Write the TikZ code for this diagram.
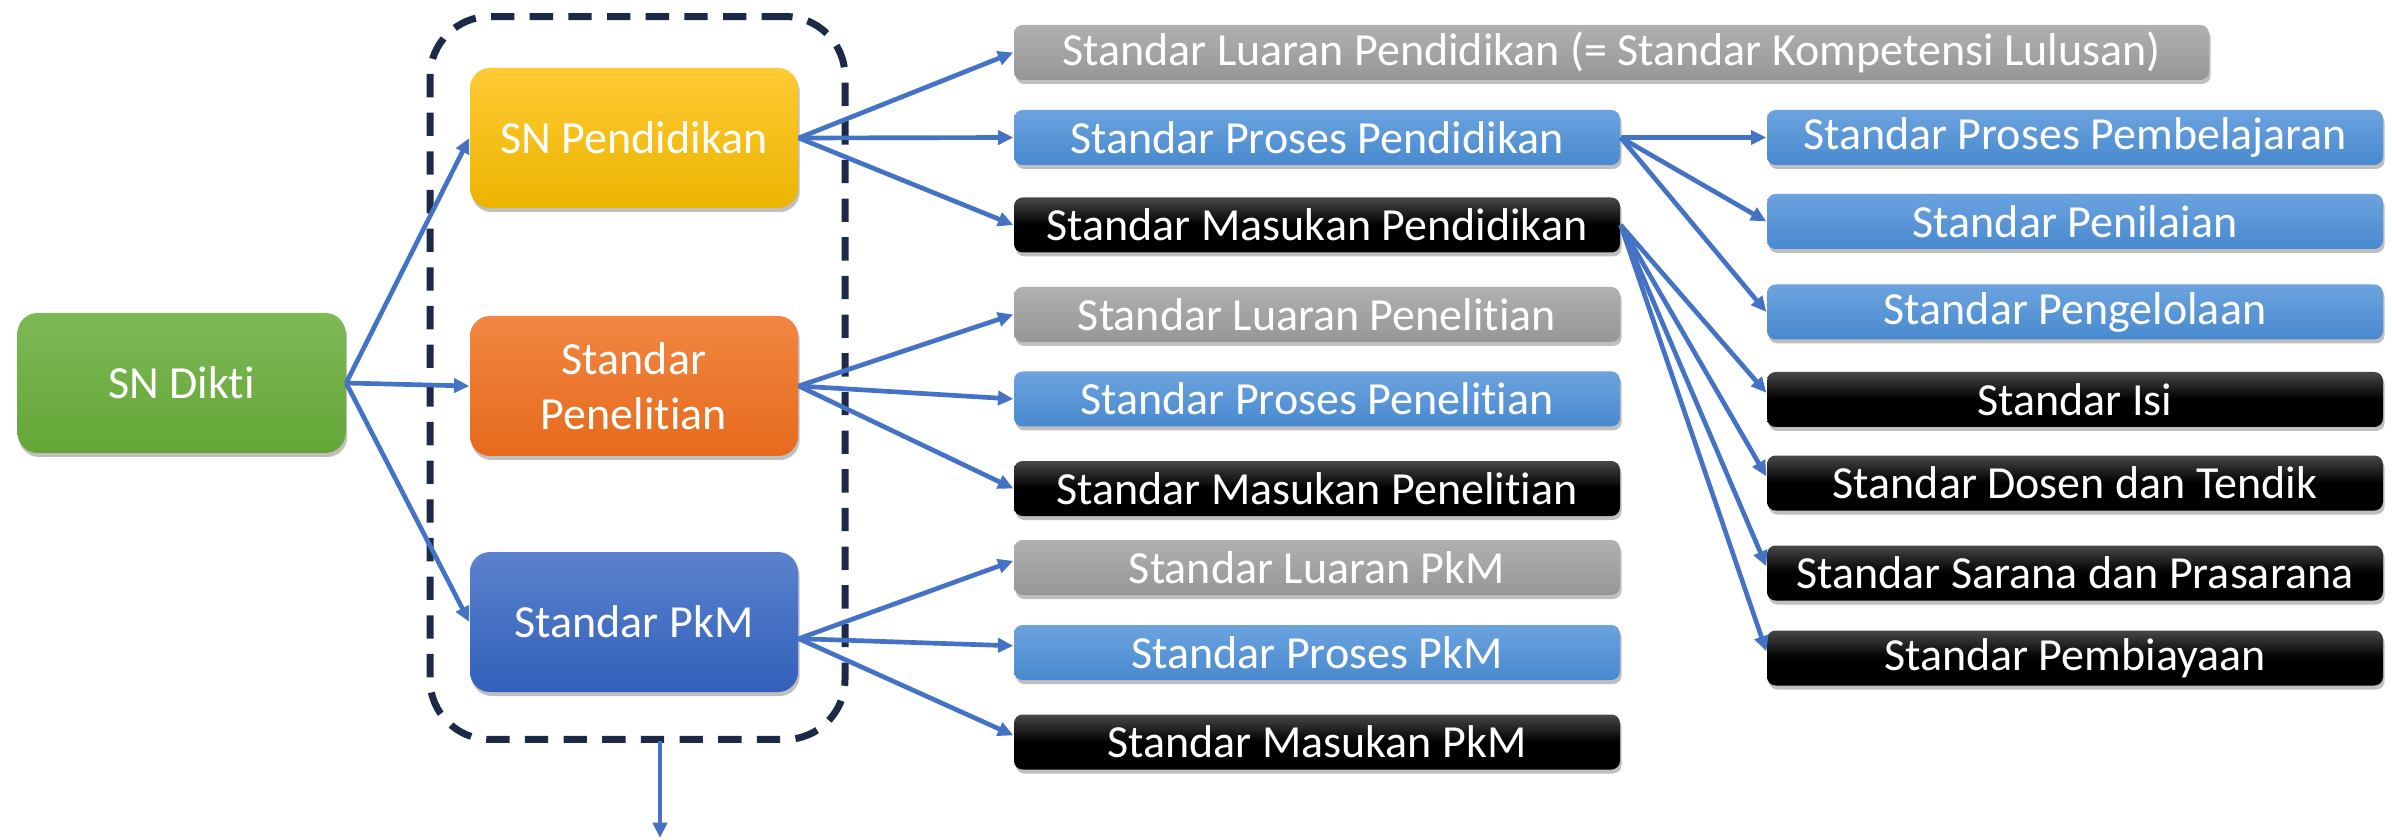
\documentclass[tikz,border=0pt]{standalone}
\usepackage{fontspec}
\setmainfont{Carlito}[Ligatures={NoCommon}]
\usetikzlibrary{arrows.meta,shadows}
\definecolor{arrowblue}{RGB}{68,114,196}
\definecolor{navyline}{RGB}{28,42,72}
\definecolor{grtop}{RGB}{126,185,86}
\definecolor{grbot}{RGB}{100,166,54}
\definecolor{yetop}{RGB}{255,202,52}
\definecolor{yebot}{RGB}{236,180,0}
\definecolor{ortop}{RGB}{241,134,66}
\definecolor{orbot}{RGB}{230,106,28}
\definecolor{dbtop}{RGB}{90,130,205}
\definecolor{dbbot}{RGB}{50,95,186}
\definecolor{lbtop}{RGB}{108,163,222}
\definecolor{lbbot}{RGB}{72,137,207}
\definecolor{gytop}{RGB}{176,176,176}
\definecolor{gybot}{RGB}{150,150,150}
\begin{document}
\begin{tikzpicture}[x=0.3pt,y=-0.3pt,
  base/.style={text=white, font=\fontsize{13.8}{16.5}\selectfont, align=center, inner sep=0pt,
    drop shadow={shadow xshift=0.5pt, shadow yshift=-1.2pt, opacity=0.25, fill=black}},
  bigbox/.style={base, rounded corners=6pt, minimum width=98.4pt, minimum height=42pt},
  midbox/.style={base, rounded corners=2.6pt, minimum width=181.8pt, minimum height=16.5pt},
  rightbox/.style={base, rounded corners=2.6pt, minimum width=184.8pt, minimum height=16.5pt},
  greenfill/.style={top color=grtop, bottom color=grbot},
  yellowfill/.style={top color=yetop, bottom color=yebot},
  orangefill/.style={top color=ortop, bottom color=orbot},
  darkbluefill/.style={top color=dbtop, bottom color=dbbot},
  lightfill/.style={top color=lbtop, bottom color=lbbot},
  grayfill/.style={top color=gytop, bottom color=gybot},
  blackfill/.style={top color=black!72, bottom color=black, middle color=black},
  arr/.style={draw=arrowblue, line width=1.4pt, -{Triangle[length=4.6pt,width=4.2pt]}},
  groupbox/.style={draw=navyline, line width=2.1pt, dash pattern=on 7pt off 4.6pt,
    rounded corners=18pt, minimum width=124.5pt, minimum height=216.9pt, inner sep=0pt}
]
\useasboundingbox (0,0) rectangle (2392,840);

\node[groupbox] (grp) at (637.5,378) {};

\node[bigbox, greenfill] (dikti) at (181.5,383) {SN Dikti};
\node[bigbox, yellowfill] (pend) at (634,138) {SN Pendidikan};
\node[bigbox, orangefill] (pen) at (634,386) {Standar\\Penelitian};
\node[bigbox, darkbluefill] (pkm) at (634,622) {Standar PkM};

\node[midbox, grayfill, minimum width=358.5pt] (lpend) at (1611.5,52.5) {Standar Luaran Pendidikan (= Standar Kompetensi Lulusan)};
\node[midbox, lightfill] (ppend) at (1317,137.5) {Standar Proses Pendidikan};
\node[midbox, blackfill] (mpend) at (1317,225) {Standar Masukan Pendidikan};
\node[midbox, grayfill] (lpen) at (1317,314.5) {Standar Luaran Penelitian};
\node[midbox, lightfill] (ppen) at (1317,399) {Standar Proses Penelitian};
\node[midbox, blackfill] (mpen) at (1317,488.5) {Standar Masukan Penelitian};
\node[midbox, grayfill] (lpkm) at (1317,567.5) {Standar Luaran PkM};
\node[midbox, lightfill] (ppkm) at (1317,652.5) {Standar Proses PkM};
\node[midbox, blackfill] (mpkm) at (1317,742) {Standar Masukan PkM};

\node[rightbox, lightfill] (pbel) at (2075,137.5) {Standar Proses Pembelajaran};
\node[rightbox, lightfill] (pnil) at (2075,221.5) {Standar Penilaian};
\node[rightbox, lightfill] (pgl) at (2075,312) {Standar Pengelolaan};
\node[rightbox, blackfill] (isi) at (2075,399.5) {Standar Isi};
\node[rightbox, blackfill] (dos) at (2075,483) {Standar Dosen dan Tendik};
\node[rightbox, blackfill] (sar) at (2075,573) {Standar Sarana dan Prasarana};
\node[rightbox, blackfill] (bia) at (2075,658) {Standar Pembiayaan};

\coordinate (pkmout) at ([yshift=-5pt]pkm.east);
\coordinate (downtop) at (660,741);
\coordinate (downend) at (660,838);

\draw[arr] (dikti.east) -- (pend.west);
\draw[arr] (dikti.east) -- (pen.west);
\draw[arr] (dikti.east) -- (pkm.west);

\draw[arr] (pend.east) -- (lpend.west);
\draw[arr] (pend.east) -- (ppend.west);
\draw[arr] (pend.east) -- (mpend.west);

\draw[arr] (pen.east) -- (lpen.west);
\draw[arr] (pen.east) -- (ppen.west);
\draw[arr] (pen.east) -- (mpen.west);

\draw[arr] (pkmout) -- ([yshift=2pt]lpkm.west);
\draw[arr] (pkmout) -- ([yshift=2pt]ppkm.west);
\draw[arr] (pkmout) -- ([yshift=2pt]mpkm.west);

\draw[arr] (ppend.east) -- (pbel.west);
\draw[arr] (ppend.east) -- (pnil.west);
\draw[arr] (ppend.east) -- (pgl.west);

\draw[arr] (mpend.east) -- ([yshift=2pt]isi.west);
\draw[arr] (mpend.east) -- ([yshift=2pt]dos.west);
\draw[arr] (mpend.east) -- ([yshift=2pt]sar.west);
\draw[arr] (mpend.east) -- ([yshift=2pt]bia.west);

\draw[arr] (downtop) -- (downend);
\end{tikzpicture}
\end{document}
